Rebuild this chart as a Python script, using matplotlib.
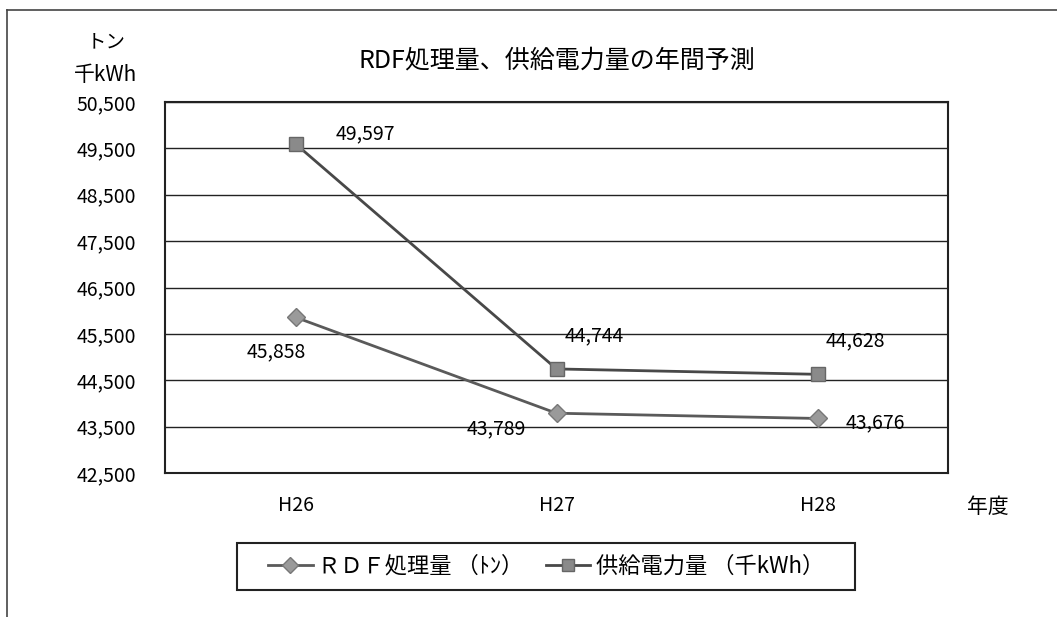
import matplotlib.pyplot as plt
from matplotlib.lines import Line2D
from matplotlib.patches import Rectangle

plt.rcParams['font.family'] = ['Noto Sans CJK JP', 'DejaVu Sans']

years = ['H26', 'H27', 'H28']
rdf = [45858, 43789, 43676]
power = [49597, 44744, 44628]
yticks = [42500, 43500, 44500, 45500, 46500, 47500, 48500, 49500, 50500]

W, H = 1057, 617
fig = plt.figure(figsize=(W / 100, H / 100), dpi=100)
ax = fig.add_axes([165 / W, 1 - 473 / H, (948 - 165) / W, (473 - 102) / H])

# outer chart frame (left and top visible only)
fig.add_artist(Line2D([7 / W, 7 / W], [0, 1 - 10 / H], color='#444444', lw=1.2))
fig.add_artist(Line2D([7 / W, 1], [1 - 10 / H, 1 - 10 / H], color='#444444', lw=1.2))

x = range(len(years))
l1, = ax.plot(x, rdf, color='#5a5a5a', lw=2, marker='D', ms=9,
              mfc='#9a9a9a', mec='#777777', label='ＲＤＦ処理量 （ﾄﾝ）')
l2, = ax.plot(x, power, color='#484848', lw=2, marker='s', ms=10,
              mfc='#8a8a8a', mec='#666666', label='供給電力量 （千kWh）')

ax.set_xlim(-0.5, 2.5)
ax.set_ylim(42500, 50500)
ax.set_yticks(yticks)
ax.set_yticklabels([f'{v:,}' for v in yticks])
ax.set_xticks(list(x))
ax.set_xticklabels(years)
ax.tick_params(length=0, labelsize=14, colors='black')
ax.tick_params(axis='y', pad=21)
ax.tick_params(axis='x', pad=16)
ax.grid(axis='y', color='#222222', lw=1)
ax.set_axisbelow(True)
for s in ax.spines.values():
    s.set_color('#222222')
    s.set_linewidth(1.5)

# data labels
fs = 14
ax.annotate(f'{power[0]:,}', (0, power[0]), xytext=(29, 7), textcoords='offset points',
            ha='left', va='center', fontsize=fs)
ax.annotate(f'{rdf[0]:,}', (0, rdf[0]), xytext=(-14, -25), textcoords='offset points',
            ha='center', va='center', fontsize=fs)
ax.annotate(f'{power[1]:,}', (1, power[1]), xytext=(27, 24), textcoords='offset points',
            ha='center', va='center', fontsize=fs)
ax.annotate(f'{power[2]:,}', (2, power[2]), xytext=(27, 24), textcoords='offset points',
            ha='center', va='center', fontsize=fs)
ax.annotate(f'{rdf[1]:,}', (1, rdf[1]), xytext=(-43, -11), textcoords='offset points',
            ha='center', va='center', fontsize=fs)
ax.annotate(f'{rdf[2]:,}', (2, rdf[2]), xytext=(42, -3), textcoords='offset points',
            ha='center', va='center', fontsize=fs)

fig.text(557 / W, 1 - 60 / H, 'RDF処理量、供給電力量の年間予測', ha='center', va='center', fontsize=18)
fig.text(106 / W, 1 - 42 / H, 'トン', ha='center', va='center', fontsize=14)
fig.text(106 / W, 1 - 75 / H, '千kWh', ha='center', va='center', fontsize=15)
fig.text(988 / W, 1 - 507 / H, '年度', ha='center', va='center', fontsize=15)

# legend: entries without frame, box drawn separately
fig.legend(handles=[l1, l2], loc='center', bbox_to_anchor=(546 / W, 1 - 566 / H),
           ncol=2, frameon=False, fontsize=16, markerscale=0.85,
           handlelength=2.0, handletextpad=0.25, columnspacing=1.0)
fig.add_artist(Rectangle((237 / W, 1 - 590 / H), (855 - 237) / W, (590 - 543) / H,
                         transform=fig.transFigure, fill=False, ec='#222222', lw=1.5))

fig.savefig('out.png', dpi=100)
